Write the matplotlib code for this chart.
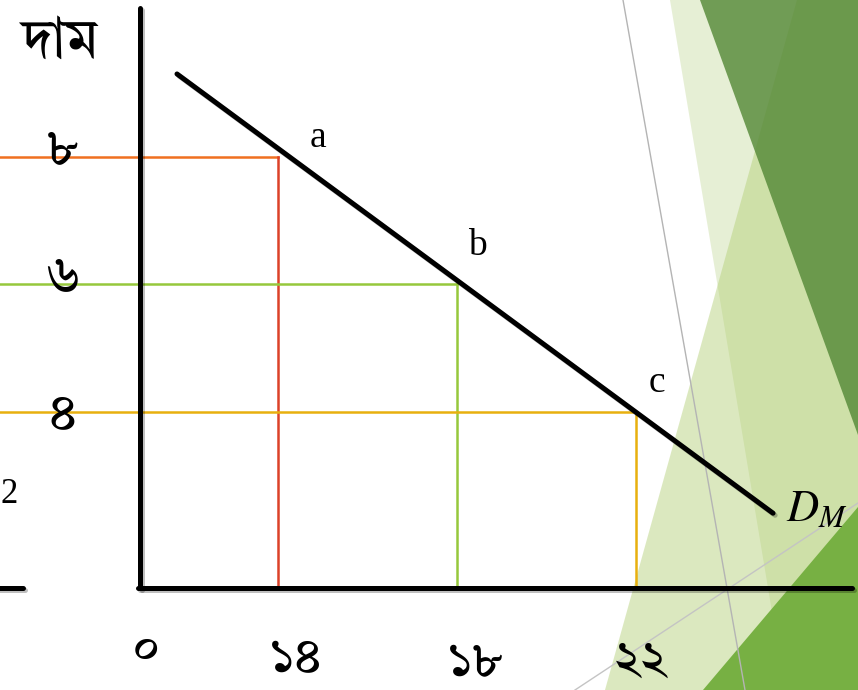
import matplotlib
matplotlib.use("Agg")
from matplotlib import pyplot as plt
from matplotlib import patheffects as pe
from matplotlib.patches import Polygon

# data (price / quantity points on the demand curve)
prices = [8, 6, 4]
quantities = [14, 18, 22]
price_labels = ["৮", "৬", "৪"]
qty_labels = ["১৪", "১৮", "২২"]
point_names = ["a", "b", "c"]
guide_colors = [("#f07020", "#dc4128"), ("#96c83c", "#96c83c"), ("#e8b00f", "#e8b00f")]

demand_q = [11.75, 25.07]
demand_p = [9.30, 2.41]

# axis frame of the diagram (not to scale, like the slide)
origin_q, origin_p = 10.92, 1.24
q_top = 26.83
p_top = 10.33
xlim = (7.795, 26.968)
ylim = (-0.363, 10.46)

W, H = 858, 690
fig = plt.figure(figsize=(W / 100, H / 100), dpi=100)
ax = fig.add_axes([0, 0, 1, 1])
ax.set_xlim(*xlim)
ax.set_ylim(*ylim)
ax.axis("off")

bn_font = ["Tiro Bangla", "Noto Sans Bengali", "DejaVu Sans"]
plt.rcParams["mathtext.fontset"] = "stix"


def frac(pts):
    # slide pixel coords -> axes fraction
    return [(x / W, 1 - y / H) for x, y in pts]


# slide decoration (green facets on the right)
ax.add_patch(Polygon(frac([(670, 0), (858, 0), (858, 690), (785, 690)]),
                     transform=ax.transAxes, fc="#e6efd5", ec="none", zorder=0))
ax.add_patch(Polygon(frac([(605, 690), (797, 0), (858, 0), (858, 690)]),
                     transform=ax.transAxes, fc="#b1ce73", alpha=0.45, ec="none", zorder=0.1))
ax.add_patch(Polygon(frac([(700, 0), (858, 0), (858, 435)]),
                     transform=ax.transAxes, fc="#538735", alpha=0.8, ec="none", zorder=0.2))
ax.add_patch(Polygon(frac([(703, 690), (858, 507), (858, 690)]),
                     transform=ax.transAxes, fc="#77b043", ec="none", zorder=0.3))
for seg, col in [([(623, 0), (745, 690)], "#b4b4b4"), ([(575, 690), (858, 503)], "#c4c4c4")]:
    (x0, y0), (x1, y1) = frac(seg)
    ax.plot([x0, x1], [y0, y1], color=col, lw=1.0, transform=ax.transAxes, zorder=0.5)

shadow = [pe.SimpleLineShadow(offset=(1.5, -1.5), alpha=0.25), pe.Normal()]

# axes of the diagram
ax.plot([origin_q, origin_q], [origin_p, p_top], color="black", lw=3.6,
        solid_capstyle="round", path_effects=shadow, zorder=3)
ax.plot([origin_q - 0.05, q_top], [origin_p, origin_p], color="black", lw=3.6,
        solid_capstyle="round", path_effects=shadow, zorder=3)
# piece of the neighbouring diagram cut off at the left edge
ax.plot([xlim[0] - 0.2, 8.31], [origin_p, origin_p], color="black", lw=3.6,
        solid_capstyle="round", path_effects=shadow, zorder=3)
ax.text(7.99, 2.71, "2", fontsize=25, family="Liberation Serif",
        ha="center", va="center", zorder=4)

# guide lines
for q, p, (hc, vc) in zip(quantities, prices, guide_colors):
    ax.plot([xlim[0], q], [p, p], color=hc, lw=1.8, zorder=2)
    ax.plot([q, q], [origin_p, p], color=vc, lw=1.8, zorder=2)

# demand curve
ax.plot(demand_q, demand_p, color="black", lw=3.6, solid_capstyle="round",
        path_effects=shadow, zorder=5)
ax.text(26.05, 2.49, r"$D_M$", fontsize=32, ha="center", va="center", zorder=6)

# point names
name_offsets = [(29, 14), (15, 28), (15, 21)]
for q, p, name, off in zip(quantities, prices, point_names, name_offsets):
    ax.annotate(name, (q, p), xytext=off, textcoords="offset points",
                fontsize=27, family="Liberation Serif", ha="center", va="center", zorder=6)

# tick labels
ax.text(60 / W, 1 - 42 / H, "দাম", transform=ax.transAxes, fontsize=40,
        family=bn_font, ha="center", va="center")
price_dy = [5, 6, -2]
for p, lab, dy in zip(prices, price_labels, price_dy):
    ax.annotate(lab, (62 / W, p), xycoords=("axes fraction", "data"), xytext=(0, dy),
                textcoords="offset points", fontsize=38, family=bn_font,
                ha="center", va="center")
qty_dx = [13, 13, 3]
qty_y = [659, 662, 661]
for q, lab, dx, y in zip(quantities, qty_labels, qty_dx, qty_y):
    ax.annotate(lab, (q, 1 - y / H), xycoords=("data", "axes fraction"), xytext=(dx, 0),
                textcoords="offset points", fontsize=37, family=bn_font,
                ha="center", va="center")
ax.text(145 / W, 1 - 650 / H, "০", transform=ax.transAxes, fontsize=36,
        family=bn_font, style="italic", ha="center", va="center")

fig.savefig("out.png", dpi=100)
